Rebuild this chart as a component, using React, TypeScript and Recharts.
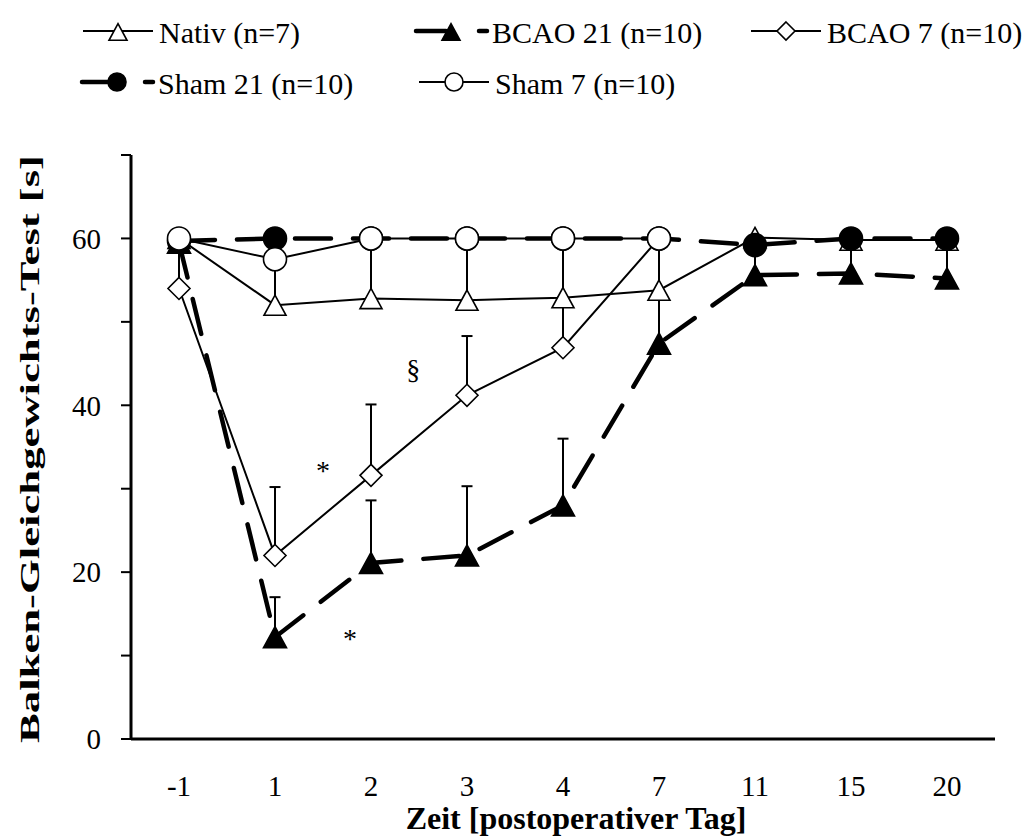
import React from 'react';
import { LineChart, Line, XAxis, YAxis, ErrorBar, Legend, ReferenceDot, Label } from 'recharts';

const FONT = '"Liberation Serif", "Times New Roman", serif';

// categories (postoperative day)
const days = ['-1', '1', '2', '3', '4', '7', '11', '15', '20'];

// series values (seconds)
const nativ = [60, 52.0, 52.8, 52.6, 52.9, 53.8, 60.1, 59.8, 59.8];
const nativErr = [0, 6, 7, 7.4, 7, 6, 0, 0, 0];

const bcao21 = [59.5, 12.2, 21.1, 22.0, 28.0, 47.4, 55.6, 55.8, 55.2];
const bcao21Err = [0, 4.8, 7.5, 8.3, 8.0, 6, 4, 4, 4.5];

const bcao7 = [54.0, 22.0, 31.6, 41.2, 46.9, 60, null, null, null];
const bcao7Err = [5.5, 8.2, 8.5, 7.1, 6, 0, null, null, null];

const sham21 = [59.7, 60, 60, 60, 60, 60, 59.2, 60, 60];
const sham21Err = [0, 0, 0, 0, 0, 0, 0, 0, 0];

const sham7 = [60, 57.5, 60, 60, 60, 60, null, null, null];
const sham7Err = [0, 0, 0, 0, 0, 0, null, null, null];

const yTicks = [0, 10, 20, 30, 40, 50, 60, 70];
const yLabelTicks = [0, 20, 40, 60];

// significance annotations (x in category index units, y in seconds at text baseline)
const notes = [
  { x: 2.44, y: 43.1, text: '§' },
  { x: 1.5, y: 31.0, text: '*' },
  { x: 1.78, y: 10.9, text: '*' },
];

const seriesNames = {
  nativ: 'Nativ (n=7)',
  bcao21: 'BCAO 21 (n=10)',
  bcao7: 'BCAO 7 (n=10)',
  sham21: 'Sham 21 (n=10)',
  sham7: 'Sham 7 (n=10)',
};

const data = days.map((d, i) => ({
  idx: i,
  day: d,
  nativ: nativ[i],
  nativErr: [0, nativErr[i]],
  bcao21: bcao21[i],
  bcao21Err: [0, bcao21Err[i]],
  bcao7: bcao7[i],
  bcao7Err: bcao7Err[i] == null ? null : [0, bcao7Err[i]],
  sham21: sham21[i],
  sham21Err: [0, sham21Err[i]],
  sham7: sham7[i],
  sham7Err: sham7Err[i] == null ? null : [0, sham7Err[i]],
}));

type Kind = 'tri' | 'triFill' | 'diamond' | 'circ' | 'circFill';

function Marker({ kind, cx, cy, s }: { kind: Kind; cx: number; cy: number; s: number }) {
  const h = s / 2;
  if (kind === 'tri' || kind === 'triFill') {
    const pts = `${cx},${cy - h * 0.92} ${cx + h},${cy + h * 0.92} ${cx - h},${cy + h * 0.92}`;
    return (
      <polygon
        points={pts}
        fill={kind === 'triFill' ? '#000' : '#fff'}
        stroke="#000"
        strokeWidth={1.6}
        strokeLinejoin="miter"
      />
    );
  }
  if (kind === 'diamond') {
    const pts = `${cx},${cy - h} ${cx + h},${cy} ${cx},${cy + h} ${cx - h},${cy}`;
    return <polygon points={pts} fill="#fff" stroke="#000" strokeWidth={1.6} />;
  }
  return (
    <circle
      cx={cx}
      cy={cy}
      r={h}
      fill={kind === 'circFill' ? '#000' : '#fff'}
      stroke="#000"
      strokeWidth={1.6}
    />
  );
}

const makeDot = (kind: Kind, s: number) => (props: any) => {
  const { cx, cy, index } = props;
  if (cx == null || cy == null || props.value == null || Number.isNaN(cx) || Number.isNaN(cy)) {
    return <g key={`e-${kind}-${index}`} />;
  }
  return (
    <g key={`d-${kind}-${index}`}>
      <Marker kind={kind} cx={cx} cy={cy} s={s} />
    </g>
  );
};

const legendItems: { key: keyof typeof seriesNames; kind: Kind; dashed: boolean; x: number; y: number }[] = [
  { key: 'nativ', kind: 'tri', dashed: false, x: 83, y: 31 },
  { key: 'bcao21', kind: 'triFill', dashed: true, x: 416, y: 31 },
  { key: 'bcao7', kind: 'diamond', dashed: false, x: 751, y: 31 },
  { key: 'sham21', kind: 'circFill', dashed: true, x: 82, y: 82 },
  { key: 'sham7', kind: 'circ', dashed: false, x: 419, y: 82 },
];

function LegendContent() {
  return (
    <svg width={1031} height={110} style={{ display: 'block' }}>
      {legendItems.map((it) => (
        <g key={it.key}>
          {it.dashed ? (
            <>
              <line x1={it.x} y1={it.y} x2={it.x + 30} y2={it.y} stroke="#000" strokeWidth={4.5} strokeLinecap="round" />
              <line x1={it.x + 63} y1={it.y} x2={it.x + 71} y2={it.y} stroke="#000" strokeWidth={4.5} strokeLinecap="round" />
            </>
          ) : (
            <line x1={it.x} y1={it.y} x2={it.x + 70} y2={it.y} stroke="#000" strokeWidth={2} />
          )}
          <Marker kind={it.kind} cx={it.x + 35} cy={it.y + (it.kind === 'tri' || it.kind === 'triFill' ? 1 : 0)} s={18} />
          <text x={it.x + 76} y={it.y + 12} fontFamily={FONT} fontSize={30} fill="#000">
            {seriesNames[it.key]}
          </text>
        </g>
      ))}
    </svg>
  );
}

function YTitle(props: any) {
  const vb = props.viewBox || { x: 0, y: 155, width: 131, height: 584 };
  const cx = 30;
  const cy = vb.y + vb.height / 2 + 2;
  return (
    <text
      x={cx}
      y={cy}
      transform={`rotate(-90 ${cx} ${cy})`}
      textAnchor="middle"
      dominantBaseline="central"
      fontFamily={FONT}
      fontWeight="bold"
      fontSize={27}
      textLength={588}
      lengthAdjust="spacingAndGlyphs"
      fill="#000"
    >
      Balken-Gleichgewichts-Test [s]
    </text>
  );
}

function XTitle(props: any) {
  const vb = props.viewBox || { x: 131, y: 739, width: 864, height: 60 };
  const cx = vb.x + vb.width / 2 + 13;
  return (
    <text x={cx} y={829} textAnchor="middle" fontFamily={FONT} fontWeight="bold" fontSize={32} fill="#000">
      Zeit [postoperativer Tag]
    </text>
  );
}

const noteShape = (text: string) => (props: any) => (
  <text x={props.cx} y={props.cy} textAnchor="middle" fontFamily={FONT} fontSize={28} fill="#000">
    {text}
  </text>
);

export default function App() {
  const tickStyle = { fill: '#000', fontSize: 29, fontFamily: FONT };
  return (
    <div style={{ position: 'absolute', left: 0, top: 0, width: 1031, height: 837, background: '#fff' }}>
      <LineChart width={1031} height={837} data={data} margin={{ top: 45, right: 36, bottom: 38, left: 0 }}>
        <Legend
          verticalAlign="top"
          align="left"
          height={110}
          content={() => <LegendContent />}
          wrapperStyle={{ top: 0, left: 0, width: 1031, height: 110 }}
        />
        <XAxis
          dataKey="idx"
          type="number"
          domain={[-0.5, 8.5]}
          allowDataOverflow
          ticks={data.map((d) => d.idx)}
          interval={0}
          tickFormatter={(v: number) => days[v] ?? ''}
          height={60}
          tick={tickStyle}
          tickLine={false}
          tickSize={0}
          tickMargin={36}
          axisLine={{ stroke: '#000', strokeWidth: 3 }}
        >
          <Label content={<XTitle />} />
        </XAxis>
        <YAxis
          type="number"
          domain={[0, 70]}
          ticks={yTicks}
          interval={0}
          width={131}
          tickFormatter={(v: number) => (yLabelTicks.includes(v) ? String(v) : '')}
          tick={tickStyle}
          tickSize={10}
          tickMargin={20}
          tickLine={{ stroke: '#000', strokeWidth: 2 }}
          axisLine={{ stroke: '#000', strokeWidth: 3 }}
        >
          <Label content={<YTitle />} />
        </YAxis>

        <Line dataKey="nativ" name={seriesNames.nativ} stroke="#000" strokeWidth={2} isAnimationActive={false} dot={makeDot('tri', 22)} activeDot={false}>
          <ErrorBar dataKey="nativErr" direction="y" width={5.5} stroke="#000" strokeWidth={2} isAnimationActive={false} />
        </Line>
        <Line
          dataKey="bcao21"
          name={seriesNames.bcao21}
          stroke="#000"
          strokeWidth={4.5}
          strokeDasharray="36 22"
          strokeLinecap="round"
          isAnimationActive={false}
          dot={makeDot('triFill', 23)}
          activeDot={false}
        >
          <ErrorBar dataKey="bcao21Err" direction="y" width={5.5} stroke="#000" strokeWidth={2} isAnimationActive={false} />
        </Line>
        <Line dataKey="bcao7" name={seriesNames.bcao7} stroke="#000" strokeWidth={2} isAnimationActive={false} dot={makeDot('diamond', 22)} activeDot={false}>
          <ErrorBar dataKey="bcao7Err" direction="y" width={5.5} stroke="#000" strokeWidth={2} isAnimationActive={false} />
        </Line>
        <Line
          dataKey="sham21"
          name={seriesNames.sham21}
          stroke="#000"
          strokeWidth={4.5}
          strokeDasharray="36 22"
          strokeLinecap="round"
          isAnimationActive={false}
          dot={makeDot('circFill', 23)}
          activeDot={false}
        >
          <ErrorBar dataKey="sham21Err" direction="y" width={5.5} stroke="#000" strokeWidth={2} isAnimationActive={false} />
        </Line>
        <Line dataKey="sham7" name={seriesNames.sham7} stroke="#000" strokeWidth={2} isAnimationActive={false} dot={makeDot('circ', 23)} activeDot={false}>
          <ErrorBar dataKey="sham7Err" direction="y" width={5.5} stroke="#000" strokeWidth={2} isAnimationActive={false} />
        </Line>

        {notes.map((n, i) => (
          <ReferenceDot key={`note-${i}`} x={n.x} y={n.y} r={0} stroke="none" fill="none" ifOverflow="visible" shape={noteShape(n.text)} />
        ))}
      </LineChart>
    </div>
  );
}
